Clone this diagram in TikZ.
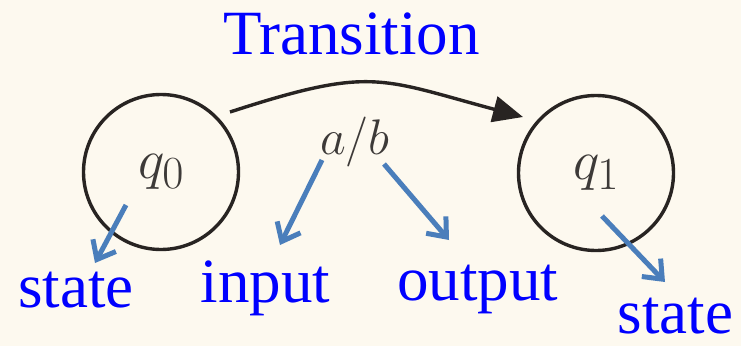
\documentclass[tikz,border=0pt]{standalone}
\usepackage{fix-cm}
\usepackage{fontspec}
\setmainfont{Liberation Serif}
\usetikzlibrary{positioning, arrows.meta, calc}

\definecolor{paper}{RGB}{253,249,239}
\definecolor{noteblue}{RGB}{74,126,187}
\definecolor{ink}{RGB}{40,36,34}
\DeclareMathSizes{56}{56}{46}{36}

\begin{document}
\begin{tikzpicture}[
    x=1pt, y=1pt,
    stnode/.style={draw=ink, circle, line width=3.4pt, minimum size=155pt, inner sep=0pt,
                   text=ink!90, font=\fontsize{56}{60}\selectfont},
    lbl/.style={text=blue, inner sep=0pt, anchor=base, font=\fontsize{63}{70}\selectfont},
    sym/.style={text=ink!90, inner sep=0pt, anchor=base, font=\fontsize{50}{56}\selectfont},
    arr/.style={draw=ink, -{Triangle[length=30pt, width=26pt]}, line width=3.4pt},
    note/.style={draw=noteblue, -{Straight Barb[length=16pt, width=26pt]}, line width=5pt},
]
% --- Frame ---
\fill[paper] (0,0) rectangle (741,346);

% --- States ---
\node[stnode] (q0) at (161,174) {$q_0$};
\node[stnode] (q1) at (596,173) {$q_1$};

% --- Transition and its label ---
\node[lbl] (ttl) at (351.5,291) {Transition};
\node[sym] (ab) at (355,192) {$a/b$};

% --- Blue labels ---
\node[lbl] (stL) at (76,39) {state};
\node[lbl] (inp) at (265.5,44) {input};
\node[lbl] (outp) at (477.5,46) {output};
\node[lbl] (stR) at (675.5,13) {state};

% --- Arrows ---
\draw[arr] ([shift={(69,60)}]q0.center) to[out=18, in=165, looseness=1.3]
  ([shift={(-73,56)}]q1.center);
\draw[note] ([shift={(-35,-33)}]q0.center) -- ([shift={(19,44)}]stL.base);
\draw[note] ([shift={(-33,-6)}]ab.base) -- ([shift={(14.5,57)}]inp.base);
\draw[note] ([shift={(29,-10)}]ab.base) -- ([shift={(-28.5,60)}]outp.base);
\draw[note] ([shift={(6,-43)}]q1.center) -- ([shift={(-10.5,51)}]stR.base);
\end{tikzpicture}
\end{document}
